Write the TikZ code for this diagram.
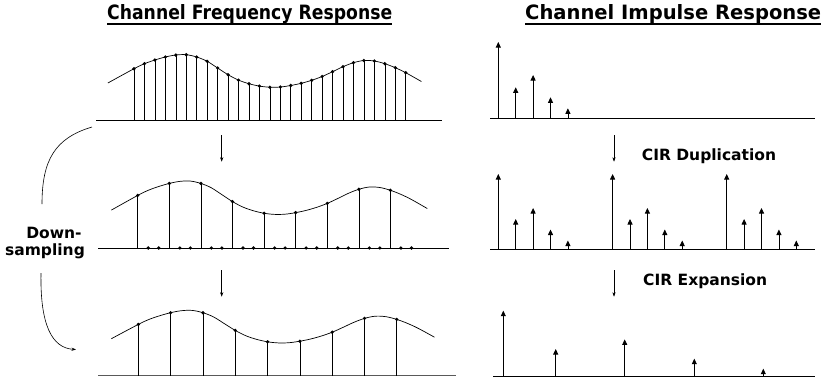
\documentclass[tikz,border=0pt]{standalone}
\usepackage{fontspec}
\usepackage{graphicx}
\setmainfont{DejaVu Sans}
\usetikzlibrary{arrows.meta}
\tikzset{
  stem/.style={line width=0.6pt},
  baseln/.style={line width=0.9pt},
  crv/.style={line width=0.7pt},
  imp/.style={line width=0.8pt,-{Triangle[length=5.5pt,width=5pt]}},
  darr/.style={line width=0.5pt,-{Stealth[length=4.5pt,width=3.2pt]}},
  bendline/.style={line width=0.6pt},
  titletext/.style={font=\bfseries\fontsize{18}{20}\selectfont, inner sep=0pt},
  lab/.style={font=\bfseries\fontsize{15.5}{17}\selectfont, inner sep=0pt},
  uline/.style={line width=1.4pt},
  dot/.style={fill=black},
}
\newcommand\freqcurve{\draw[crv] plot[smooth,tension=0.55] coordinates {(-2.5,37) (0,51.3) (1,56.3) (2,60) (3,63) (4,65) (5,65.3) (6,63) (7,58.7) (8,52) (9,45.3) (10,39.9) (11,36.3) (12,33.9) (13,32.8) (14,33) (15,34.5) (16,36.7) (17,39.7) (18,43.5) (19,48.3) (20,53.3) (21,57.3) (22,59.5) (23,59) (24,56.3) (25,52.3) (26,47.3) (27.5,38.5)};}
\begin{document}
\begin{tikzpicture}[x=1pt,y=-1pt]
\useasboundingbox (0,0) rectangle (826,381);

% titles
\node[titletext,anchor=base west] (t1) at (107,19) {\resizebox{285pt}{15pt}{Channel Frequency Response}};
\draw[uline] ([yshift=-5pt]t1.base west) -- ([yshift=-5pt]t1.base east);
\node[titletext,anchor=base west] (t2) at (525,19) {\resizebox{296pt}{15pt}{Channel Impulse Response}};
\draw[uline] ([yshift=-5pt]t2.base west) -- ([yshift=-5pt]t2.base east);

% ---------- left panel 1 ----------
\coordinate (b1l) at (96,120); \coordinate (b1r) at (442,120);
\draw[baseln] (b1l) -- (b1r);
\begin{scope}[shift={(134pt,-120pt)},x=10.45pt,y=1pt]
  \freqcurve
  \foreach \h [count=\i from 0] in {51.3,56.3,60,63,65,65.3,63,58.7,52,45.3,39.9,36.3,33.9,32.8,33,34.5,36.7,39.7,43.5,48.3,53.3,57.3,59.5,59,56.3,52.3,47.3}{
    \draw[stem] (\i,0) -- (\i,\h);
    \fill[dot] (\i,\h) circle[radius=1.8pt];
  }
\end{scope}

% ---------- left panel 2 ----------
\coordinate (b2l) at (98,248); \coordinate (b2r) at (449,248);
\draw[baseln] (b2l) -- (b2r);
\begin{scope}[shift={(137.7pt,-248pt)},x=10.53pt,y=1.025pt]
  \freqcurve
  \foreach \i/\h in {0/51.3,3/63,6/63,9/45.3,12/33.9,15/34.5,18/43.5,21/57.3,24/56.3}{
    \draw[stem] (\i,0) -- (\i,\h);
    \fill[dot] (\i,\h) circle[radius=1.8pt];
  }
  \foreach \i in {1,2,4,5,7,8,10,11,13,14,16,17,19,20,22,23,25,26}{
    \fill[dot] (\i,0) circle[radius=1.8pt];
  }
\end{scope}

% ---------- left panel 3 ----------
\coordinate (b3l) at (98,375.7); \coordinate (b3r) at (455.7,375.7);
\draw[baseln,black!65] (b3l) -- (b3r);
\begin{scope}[shift={(138.3pt,-375.7pt)},x=10.77pt,y=1pt]
  \freqcurve
  \foreach \i/\h in {0/51.3,3/63,6/63,9/45.3,12/33.9,15/34.5,18/43.5,21/57.3,24/56.3}{
    \draw[stem] (\i,0) -- (\i,\h);
    \fill[dot] (\i,\h) circle[radius=1.8pt];
  }
\end{scope}

% down arrows (left)
\coordinate (la1) at (221.7,135); \coordinate (la2) at (221.7,161.7);
\draw[darr] (la1) -- (la2);
\coordinate (la3) at (221.7,270); \coordinate (la4) at (221.7,296.7);
\draw[darr] (la3) -- (la4);

% down-sampling label and bends
\node[lab] (ds1) at (54,233) {Down-};
\node[lab] (ds2) at (45,251) {sampling};
\coordinate (c1s) at (92,127); \coordinate (c1e) at (42,204);
\draw[bendline] (c1s) .. controls (55,138) and (42,160) .. (c1e);
\coordinate (c2s) at (41,273); \coordinate (c2e) at (76,349.5);
\draw[bendline,-{Stealth[length=4.5pt,width=3.2pt]}] (c2s) .. controls (40,325) and (52,348) .. (c2e);

% ---------- right panel 1 ----------
\coordinate (r1l) at (490,118); \coordinate (r1r) at (815,118);
\draw[baseln] (r1l) -- (r1r);
\foreach \dx/\h in {0/76,17.4/30.7,34.8/43,52.2/20.7,69.6/9.7}{
  \draw[imp] (498.3+\dx,118) -- (498.3+\dx,118-\h);
}

% ---------- right panel 2 ----------
\coordinate (r2l) at (490,249); \coordinate (r2r) at (815,249);
\draw[baseln] (r2l) -- (r2r);
\foreach \g in {498.3,612.6,726.7}{
  \foreach \dx/\h in {0/75,17.4/30,34.8/41,52.2/19.5,69.6/8.5}{
    \draw[imp] (\g+\dx,249) -- (\g+\dx,249-\h);
  }
}
\coordinate (ra1) at (614,135); \coordinate (ra2) at (614,161.7);
\draw[darr] (ra1) -- (ra2);
\node[lab,anchor=west] (dup) at (641.7,156) {CIR Duplication};

% ---------- right panel 3 ----------
\coordinate (r3l) at (493,376.7); \coordinate (r3r) at (815,376.7);
\draw[baseln] (r3l) -- (r3r);
\foreach \x/\h in {503.3/66,555.7/27.7,624.7/37.3,694.3/18,763.3/8}{
  \draw[imp] (\x,376.7) -- (\x,376.7-\h);
}
\coordinate (ra3) at (614,270); \coordinate (ra4) at (614,296.7);
\draw[darr] (ra3) -- (ra4);
\node[lab,anchor=west] (exp) at (643,281.7) {CIR Expansion};
\end{tikzpicture}
\end{document}
